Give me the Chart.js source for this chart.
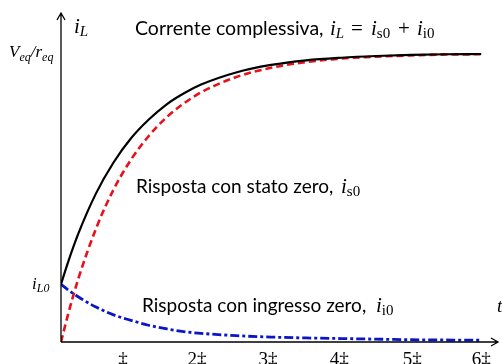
<!DOCTYPE html>
<html>
<head>
<meta charset="utf-8">
<script src="https://cdn.jsdelivr.net/npm/chart.js@4"></script>
<style>
  body { margin: 0; background: #fff; }
  canvas { display: block; }
</style>
</head>
<body>
<canvas id="rlChart" width="502" height="364"></canvas>
<script>
// time in units of tau
const tValues = [0, 0.1, 0.25, 0.5, 0.75, 1, 1.25, 1.5, 1.75, 2, 2.5, 3, 3.5, 4, 4.5, 5, 5.5, 6];
// currents, normalised to Veq/req
const totalCurrent = [0.2, 0.276, 0.377, 0.515, 0.622, 0.706, 0.77, 0.822, 0.861, 0.892, 0.934, 0.96, 0.976, 0.985, 0.991, 0.995, 0.997, 0.998];
const zeroState = [0, 0.095, 0.221, 0.393, 0.528, 0.632, 0.713, 0.777, 0.826, 0.865, 0.918, 0.95, 0.97, 0.982, 0.989, 0.993, 0.996, 0.997];
const zeroInput = [0.2, 0.181, 0.156, 0.121, 0.094, 0.075, 0.058, 0.046, 0.036, 0.03, 0.022, 0.017, 0.014, 0.012, 0.01, 0.008, 0.007, 0.006];
const xTickValues = [1, 2, 3, 4, 5, 6];
const xTickLabels = ['‡', '2‡', '3‡', '4‡', '5‡', '6‡'];
const iL0 = 0.2;

const toPoints = arr => arr.map((v, i) => ({ x: tValues[i], y: v }));

const SANS = 'Lato, "Open Sans", sans-serif';
const SERIF = '"Liberation Serif", "DejaVu Serif", serif';

// draws a run of text pieces; "at" puts a piece at a fixed x
function rich(ctx, x, y, parts) {
    let cx = x;
    parts.forEach(p => {
        if (p.at !== undefined) cx = p.at;
        ctx.font = p.f;
        ctx.fillText(p.t, cx, y + (p.dy || 0));
        cx += ctx.measureText(p.t).width;
    });
}

const decor = {
    id: 'decor',
    afterDraw(chart) {
        const ctx = chart.ctx;
        const xs = chart.scales.x, ys = chart.scales.y;
        const x0 = xs.getPixelForValue(0), y0 = ys.getPixelForValue(0);
        const top = chart.chartArea.top, right = chart.chartArea.right;
        ctx.save();
        ctx.strokeStyle = '#000';
        ctx.lineWidth = 1.3;
        ctx.beginPath();
        ctx.moveTo(x0, y0); ctx.lineTo(x0, top);
        ctx.moveTo(x0 - 4, top + 7); ctx.lineTo(x0, top); ctx.lineTo(x0 + 4, top + 7);
        ctx.moveTo(x0, y0); ctx.lineTo(right, y0);
        ctx.moveTo(right - 7, y0 - 4); ctx.lineTo(right, y0); ctx.lineTo(right - 7, y0 + 4);
        ctx.stroke();

        ctx.fillStyle = '#000';
        ctx.textBaseline = 'alphabetic';
        const it = s => 'italic ' + s + 'px ' + SERIF;
        const rm = s => s + 'px ' + SERIF;
        const sans = s => s + 'px ' + SANS;

        // tick labels
        ctx.textAlign = 'center';
        ctx.font = rm(19);
        const shift = [-8, -4, -3, -2, 1, 0];
        xTickValues.forEach((v, i) => {
            ctx.fillText(xTickLabels[i], xs.getPixelForValue(v) + shift[i], 365);
        });
        ctx.textAlign = 'left';

        // axis names
        rich(ctx, 74, 33, [{ t: 'i', f: it(21) }, { t: 'L', f: it(15), dy: 3 }]);
        rich(ctx, 497, 312, [{ t: 't', f: it(19) }]);
        rich(ctx, 9, 57, [
            { t: 'V', f: it(17) }, { t: 'eq', f: it(12), dy: 4 },
            { t: '/', f: it(17) }, { t: 'r', f: it(17) }, { t: 'eq', f: it(12), dy: 4 }
        ]);
        rich(ctx, 32, ys.getPixelForValue(iL0) + 5, [{ t: 'i', f: it(17) }, { t: 'L0', f: it(12), dy: 3 }]);

        // curve labels
        rich(ctx, 135, 35, [
            { t: 'Corrente complessiva,', f: sans(19.5) },
            { t: 'i', f: it(21), at: 330 }, { t: 'L', f: it(15), dy: 3 },
            { t: '=', f: rm(21), at: 351 },
            { t: 'i', f: it(21), at: 371 }, { t: 's0', f: rm(15), dy: 3 },
            { t: '+', f: rm(21), at: 398 },
            { t: 'i', f: it(21), at: 417 }, { t: 'i0', f: rm(15), dy: 3 }
        ]);
        rich(ctx, 136, 193, [
            { t: 'Risposta con stato zero,', f: sans(19) },
            { t: 'i', f: it(21), at: 341 }, { t: 's0', f: rm(15), dy: 3 }
        ]);
        rich(ctx, 142, 312, [
            { t: 'Risposta con ingresso zero,', f: sans(19) },
            { t: 'i', f: it(21), at: 376 }, { t: 'i0', f: rm(15), dy: 3 }
        ]);
        ctx.restore();
    }
};

new Chart(document.getElementById('rlChart'), {
    type: 'line',
    data: {
        datasets: [{
            label: 'ingresso zero',
            data: toPoints(zeroInput),
            borderColor: '#0a14c8',
            borderWidth: 2.8,
            borderDash: [9, 3, 3, 3]
        }, {
            label: 'complessiva',
            data: toPoints(totalCurrent),
            borderColor: '#000',
            borderWidth: 2.2
        }, {
            label: 'stato zero',
            data: toPoints(zeroState),
            borderColor: '#e8101a',
            borderWidth: 2.6,
            borderDash: [7, 4]
        }]
    },
    options: {
        responsive: false,
        animation: false,
        layout: { padding: { left: 61, top: 13, right: 4, bottom: 22 } },
        elements: {
            point: { radius: 0 },
            line: { cubicInterpolationMode: 'monotone', fill: false }
        },
        plugins: {
            legend: { display: false },
            tooltip: { enabled: false }
        },
        scales: {
            x: { type: 'linear', min: 0, max: 6.24, display: false },
            y: { min: 0, max: 1.14, display: false }
        }
    },
    plugins: [decor]
});
</script>
</body>
</html>
